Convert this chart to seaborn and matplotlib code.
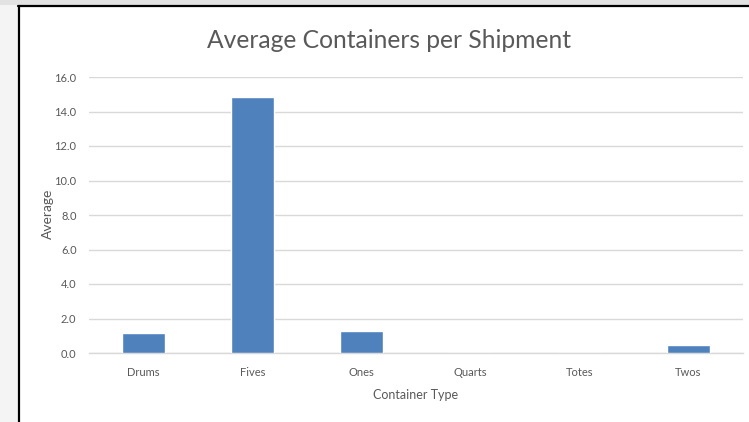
import matplotlib
matplotlib.use("Agg")
import matplotlib.pyplot as plt
import seaborn as sns
import pandas as pd
from matplotlib.patches import Rectangle
from matplotlib.lines import Line2D

# Average containers per shipment, by container type
container_types = ["Drums", "Fives", "Ones", "Quarts", "Totes", "Twos"]
avg_containers = [1.16, 14.84, 1.28, 0.0, 0.0, 0.45]
y_ticks = [0, 2, 4, 6, 8, 10, 12, 14, 16]

df = pd.DataFrame({"Container Type": container_types, "Average": avg_containers})

sns.set_theme(style="white")
plt.rcParams["font.family"] = ["Lato", "DejaVu Sans"]

grey_text = "#595959"
bar_color = "#4F81BD"
grid_color = "#D9D9D9"

fig = plt.figure(figsize=(7.49, 4.22), dpi=100)
fig.patch.set_facecolor("white")

W, H = 749, 422
# light frame strips around the chart area
fig.patches.append(Rectangle((0, 0), 18 / W, 1, transform=fig.transFigure,
                             facecolor="#F4F4F4", edgecolor="none", zorder=0))
fig.patches.append(Rectangle((0, 1 - 5 / H), 1, 5 / H, transform=fig.transFigure,
                             facecolor="#E2E2E2", edgecolor="none", zorder=0))
fig.lines.append(Line2D([19 / W, 19 / W], [0, 1 - 5.5 / H], transform=fig.transFigure,
                        color="black", linewidth=1.6, zorder=5))
fig.lines.append(Line2D([18 / W, 1], [1 - 6 / H, 1 - 6 / H], transform=fig.transFigure,
                        color="black", linewidth=1.6, zorder=5))

ax = fig.add_axes([89 / W, 1 - 353 / H, (743 - 89) / W, (353 - 77) / H])

sns.barplot(data=df, x="Container Type", y="Average", color=bar_color,
            width=0.4, saturation=1, ax=ax, zorder=3)

ax.set_ylim(0, 16)
ax.set_xlim(-0.5, len(container_types) - 0.5)
ax.set_yticks(y_ticks)
ax.set_yticklabels([f"{v:.1f}" for v in y_ticks])
ax.yaxis.grid(True, color=grid_color, linewidth=1.0, zorder=0)
ax.set_axisbelow(True)
for s in ["top", "right", "left"]:
    ax.spines[s].set_visible(False)
ax.spines["bottom"].set_color(grid_color)
ax.spines["bottom"].set_linewidth(1.0)

ax.tick_params(axis="both", length=0, labelsize=8, labelcolor=grey_text)
ax.tick_params(axis="x", pad=10)
ax.tick_params(axis="y", pad=9)

ax.set_xlabel("Container Type", fontsize=9, color=grey_text, labelpad=8)
ax.set_ylabel("Average", fontsize=10, color=grey_text)
ax.yaxis.set_label_coords(-0.053, 0.504)

fig.text(389 / W, 1 - 40 / H, "Average Containers per Shipment",
         ha="center", va="center", fontsize=17.7, color=grey_text)

fig.savefig("out.png", dpi=100)
